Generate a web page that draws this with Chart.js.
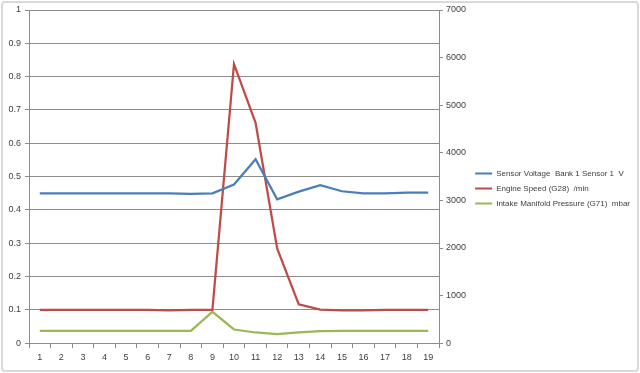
<!DOCTYPE html>
<html>
<head>
<meta charset="utf-8">
<script src="https://cdn.jsdelivr.net/npm/chart.js@4"></script>
<style>
  html, body { margin: 0; padding: 0; background: #fff; }
  #wrap { position: relative; width: 640px; height: 373px; }
</style>
</head>
<body>
<div id="wrap"><canvas id="chart" width="640" height="373"></canvas></div>
<script>
// ===== Data =====
const samples = ['1','2','3','4','5','6','7','8','9','10','11','12','13','14','15','16','17','18','19'];
const sensorVoltage = [0.45,0.45,0.45,0.45,0.45,0.45,0.45,0.448,0.45,0.476,0.552,0.432,0.455,0.474,0.456,0.45,0.45,0.452,0.452];
const engineSpeed = [700,700,700,700,700,700,690,700,700,5865,4630,1990,815,705,690,690,700,700,700];
const intakePressure = [258,258,258,258,258,258,258,258,660,288,225,192,225,252,258,258,258,258,258];
const leftTicks = [0,0.1,0.2,0.3,0.4,0.5,0.6,0.7,0.8,0.9,1];
const rightTicks = [0,1000,2000,3000,4000,5000,6000,7000];

const gridColor = '#8c8c8c';
const textColor = '#404040';
const font = { family: 'Liberation Sans', size: 9 };
const legendFont = { family: 'Liberation Sans', size: 8 };

// ===== Chart border (Excel style frame) =====
const frame = {
  id: 'frame',
  beforeDraw(chart) {
    const ctx = chart.ctx;
    ctx.save();
    ctx.fillStyle = '#fff';
    ctx.fillRect(0, 0, chart.width, chart.height);
    ctx.strokeStyle = '#d9d9d9';
    ctx.lineWidth = 2;
    ctx.beginPath();
    ctx.roundRect(2, 2, chart.width - 4, chart.height - 4, 3);
    ctx.stroke();
    ctx.restore();
  }
};

new Chart(document.getElementById('chart'), {
  type: 'line',
  data: {
    labels: samples,
    datasets: [
      { label: 'Sensor Voltage  Bank 1 Sensor 1  V', data: sensorVoltage, yAxisID: 'y',
        borderColor: '#4a7ebb', backgroundColor: '#4a7ebb' },
      { label: 'Engine Speed (G28)  /min', data: engineSpeed, yAxisID: 'y2',
        borderColor: '#be4b48', backgroundColor: '#be4b48' },
      { label: 'Intake Manifold Pressure (G71)  mbar', data: intakePressure, yAxisID: 'y2',
        borderColor: '#98b954', backgroundColor: '#98b954' },
    ],
  },
  options: {
    responsive: false,
    animation: false,
    layout: { padding: { top: 10, bottom: 6, left: 0, right: 0 } },
    elements: {
      point: { radius: 0, hoverRadius: 0 },
      line: { borderWidth: 2.25, tension: 0 },
    },
    plugins: {
      tooltip: { enabled: false },
      legend: {
        position: 'right',
        maxWidth: 200,
        labels: {
          font: legendFont,
          color: textColor,
          boxWidth: 17,
          boxHeight: 2,
          padding: 7,
          generateLabels(chart) {
            return Chart.defaults.plugins.legend.labels.generateLabels(chart)
              .map(l => Object.assign(l, { lineWidth: 0 }));
          },
        },
      },
    },
    scales: {
      x: {
        offset: true,
        grid: { offset: true, drawOnChartArea: false, color: gridColor, tickLength: 5 },
        border: { color: gridColor },
        ticks: { font: font, color: textColor, maxRotation: 0, autoSkip: false, padding: 4 },
      },
      y: {
        position: 'left',
        min: 0, max: 1,
        afterBuildTicks: s => { s.ticks = leftTicks.map(v => ({ value: v })); },
        afterFit: s => { s.width = 29; },
        grid: { color: gridColor, tickLength: 4 },
        border: { color: gridColor },
        ticks: { font: font, color: textColor, padding: 4, callback: v => String(v) },
      },
      y2: {
        position: 'right',
        min: 0, max: 7000,
        afterBuildTicks: s => { s.ticks = rightTicks.map(v => ({ value: v })); },
        // keep the plot's right edge at x=439 whatever the legend width is
        afterFit: s => {
          const lw = s.chart.legend && s.chart.legend.width ? s.chart.legend.width : 160;
          s.width = Math.max(20, s.chart.width - 439 - lw);
        },
        grid: { drawOnChartArea: false, color: gridColor, tickLength: 4 },
        border: { color: gridColor },
        ticks: { font: font, color: textColor, padding: 3, callback: v => String(v) },
      },
    },
  },
  plugins: [frame],
});
</script>
</body>
</html>
